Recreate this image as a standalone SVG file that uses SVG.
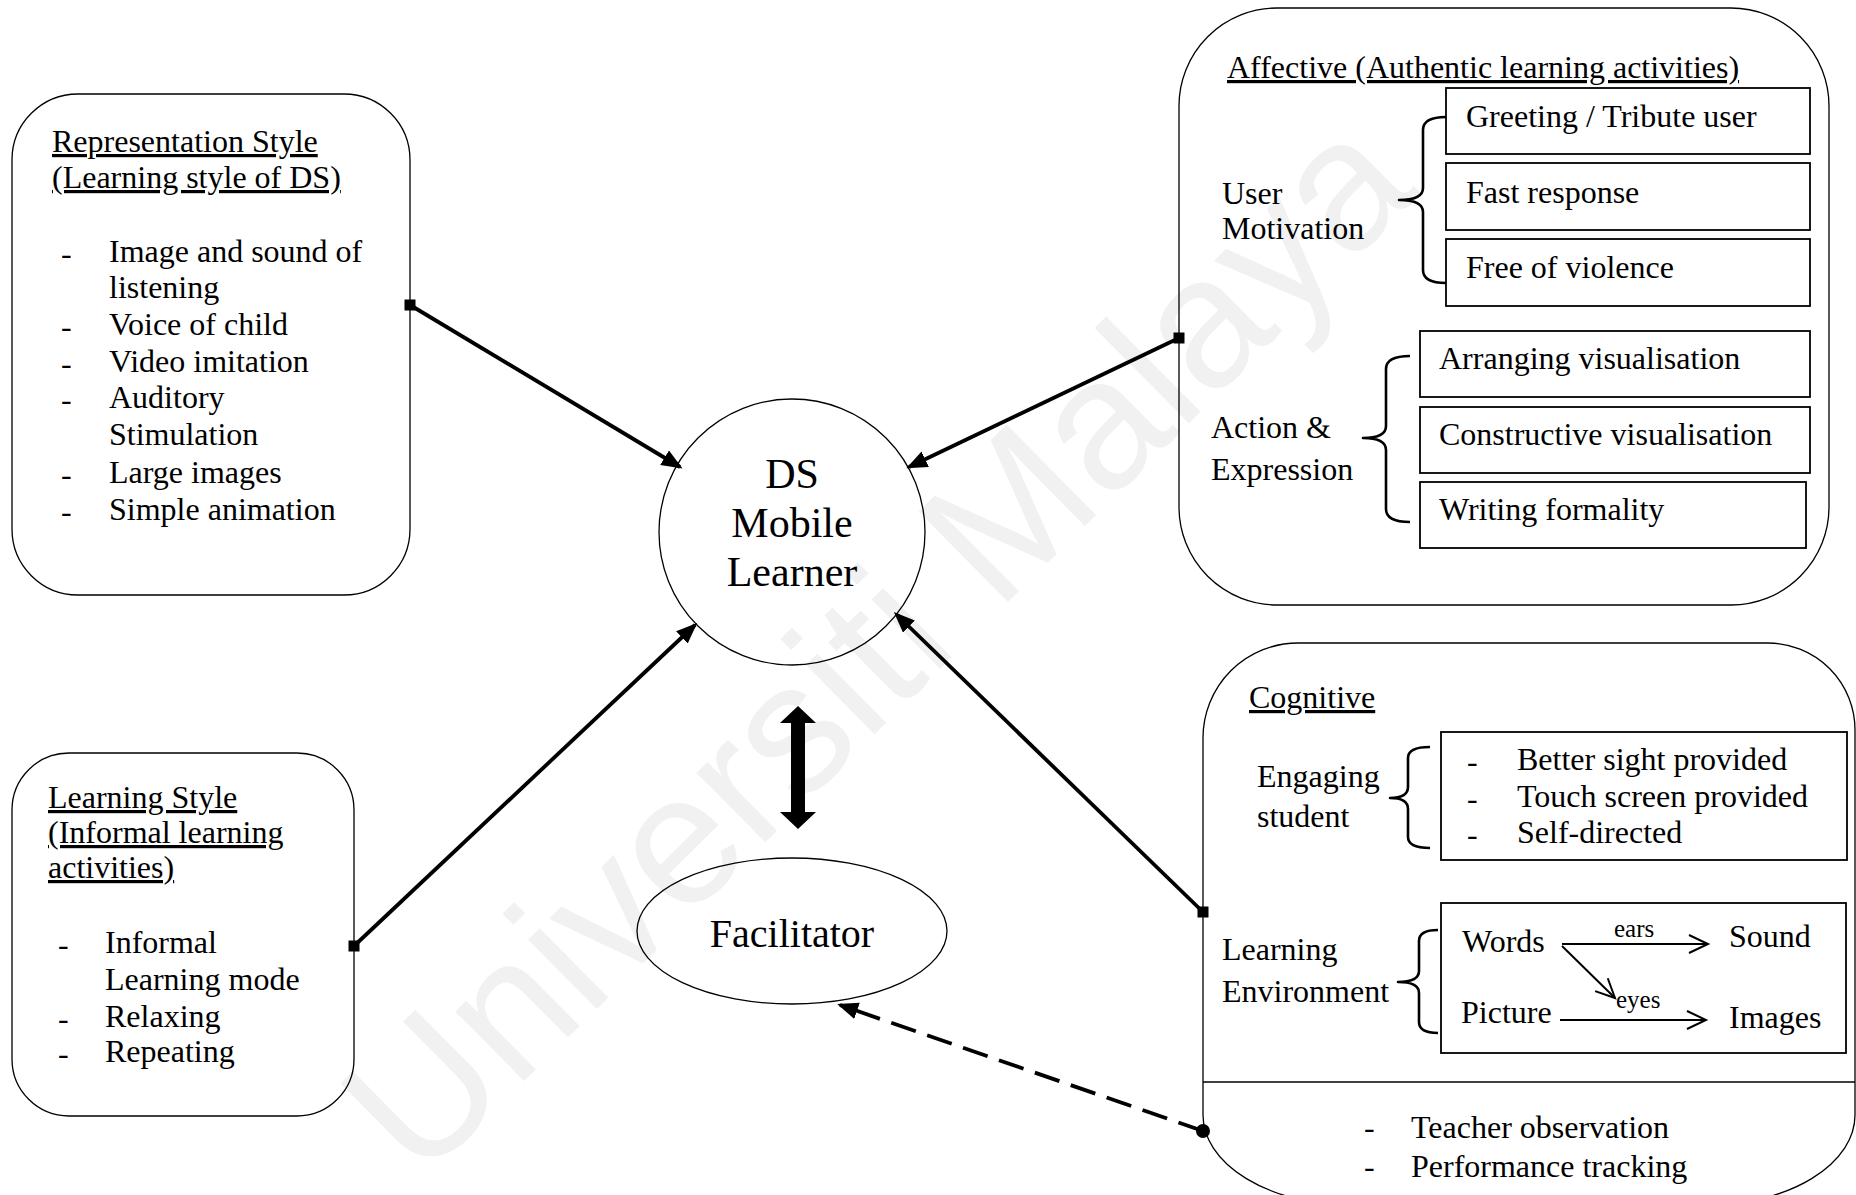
<svg xmlns="http://www.w3.org/2000/svg" width="1856" height="1195" viewBox="0 0 1856 1195">
<style>
text { font-family: "Liberation Serif", "Times New Roman", serif; fill: #000; }
.t { font-size: 32px; }
.u { text-decoration: underline; }
.c { font-size: 42px; text-anchor: middle; }
.f { font-size: 40px; text-anchor: middle; }
.s { font-size: 25px; }
.wm { font-family: "Liberation Sans", Arial, sans-serif; font-size: 185px; fill: #f1f1f1; }
.outline { fill: none; stroke: #000; stroke-width: 1.3; }
.cell { fill: none; stroke: #000; stroke-width: 1.8; }
.brace { fill: none; stroke: #000; stroke-width: 2.6; stroke-linejoin: round; }
.link { fill: none; stroke: #000; stroke-width: 3.8; }
.dashed { stroke-dasharray: 26 12; }
.flow { fill: none; stroke: #000; stroke-width: 2; }
</style>
<defs>
  <marker id="arrow" markerUnits="userSpaceOnUse" markerWidth="24" markerHeight="18" refX="18" refY="8.5" orient="auto">
    <path d="M0,0 L21,8.5 L0,17 z" fill="#000"/>
  </marker>
  <marker id="sq" markerUnits="userSpaceOnUse" viewBox="-7 -7 14 14" markerWidth="14" markerHeight="14" refX="0" refY="0">
    <rect x="-5.5" y="-5.5" width="11" height="11" fill="#000"/>
  </marker>
  <marker id="dot" markerUnits="userSpaceOnUse" viewBox="-8 -8 16 16" markerWidth="16" markerHeight="16" refX="0" refY="0">
    <circle r="7" fill="#000"/>
  </marker>
  <marker id="open" markerUnits="userSpaceOnUse" viewBox="-2 -2 24 22" markerWidth="24" markerHeight="22" refX="19" refY="9" orient="auto">
    <path d="M0,0 L19,9 L0,18" fill="none" stroke="#000" stroke-width="2"/>
  </marker>
</defs>

<!-- background watermark -->
<text class="wm" transform="translate(420,1184) rotate(-44.7)">Universiti Malaya</text>

<!-- Representation style -->
<g id="representation-style">
  <rect class="outline" x="12" y="94" width="398" height="501" rx="66"/>
  <text class="t u" x="52" y="152">Representation Style</text>
  <text class="t u" x="52" y="188">(Learning style of DS)</text>
  <text class="t" x="61" y="264">-</text><text class="t" x="109" y="262">Image and sound of</text>
  <text class="t" x="109" y="298">listening</text>
  <text class="t" x="61" y="337">-</text><text class="t" x="109" y="335">Voice of child</text>
  <text class="t" x="61" y="374">-</text><text class="t" x="109" y="372">Video imitation</text>
  <text class="t" x="61" y="410">-</text><text class="t" x="109" y="408">Auditory</text>
  <text class="t" x="109" y="445">Stimulation</text>
  <text class="t" x="61" y="485">-</text><text class="t" x="109" y="483">Large images</text>
  <text class="t" x="61" y="522">-</text><text class="t" x="109" y="520">Simple animation</text>
</g>

<!-- Learning style -->
<g id="learning-style">
  <rect class="outline" x="12" y="753" width="342" height="363" rx="57"/>
  <text class="t u" x="48" y="808">Learning Style</text>
  <text class="t u" x="48" y="843">(Informal learning</text>
  <text class="t u" x="48" y="878">activities)</text>
  <text class="t" x="58" y="955">-</text><text class="t" x="105" y="953">Informal</text>
  <text class="t" x="105" y="990">Learning mode</text>
  <text class="t" x="58" y="1029">-</text><text class="t" x="105" y="1027">Relaxing</text>
  <text class="t" x="58" y="1064">-</text><text class="t" x="105" y="1062">Repeating</text>
</g>

<!-- DS mobile learner -->
<g id="ds-mobile-learner">
  <circle class="outline" cx="792" cy="532" r="133"/>
  <text class="c" x="792" y="488">DS</text>
  <text class="c" x="792" y="537">Mobile</text>
  <text class="c" x="792" y="586">Learner</text>
</g>

<!-- Facilitator -->
<g id="facilitator">
  <ellipse class="outline" cx="792" cy="931" rx="155" ry="73"/>
  <text class="f" x="792" y="947">Facilitator</text>
</g>

<!-- Affective -->
<g id="affective">
  <rect class="outline" x="1179" y="8" width="650" height="597" rx="98"/>
  <text class="t u" x="1227" y="78">Affective (Authentic learning activities)</text>
  <text class="t" x="1222" y="204">User</text>
  <text class="t" x="1222" y="239">Motivation</text>
  <path class="brace" d="M1446,117 Q1423,117 1423,130 L1423,188 Q1423,200 1399,200 Q1423,200 1423,212 L1423,270 Q1423,283 1446,283"/>
  <rect class="cell" x="1446" y="88" width="364" height="66"/>
  <rect class="cell" x="1446" y="163" width="364" height="67"/>
  <rect class="cell" x="1446" y="239" width="364" height="67"/>
  <text class="t" x="1466" y="127">Greeting / Tribute user</text>
  <text class="t" x="1466" y="203">Fast response</text>
  <text class="t" x="1466" y="278">Free of violence</text>
  <text class="t" x="1211" y="438">Action &amp;</text>
  <text class="t" x="1211" y="480">Expression</text>
  <path class="brace" d="M1410,356 Q1386,356 1386,369 L1386,426 Q1386,438 1363,438 Q1386,438 1386,450 L1386,509 Q1386,522 1410,522"/>
  <rect class="cell" x="1420" y="331" width="390" height="66"/>
  <rect class="cell" x="1420" y="407" width="390" height="66"/>
  <rect class="cell" x="1420" y="482" width="386" height="66"/>
  <text class="t" x="1439" y="369">Arranging visualisation</text>
  <text class="t" x="1439" y="445">Constructive visualisation</text>
  <text class="t" x="1439" y="520">Writing formality</text>
</g>

<!-- Cognitive -->
<g id="cognitive">
  <path class="outline" d="M1203,738 A95,95 0 0 1 1298,643 L1768,643 A87,87 0 0 1 1855,730 L1855,1115 A148,90 0 0 1 1707,1205 L1351,1205 A148,90 0 0 1 1203,1115 Z"/>
  <line class="outline" x1="1203" y1="1082" x2="1855" y2="1082"/>
  <text class="t u" x="1249" y="708">Cognitive</text>
  <text class="t" x="1257" y="787">Engaging</text>
  <text class="t" x="1257" y="827">student</text>
  <path class="brace" d="M1430,747 Q1408,747 1408,758 L1408,787 Q1408,798 1390,798 Q1408,798 1408,809 L1408,837 Q1408,848 1430,848"/>
  <rect class="cell" x="1441" y="732" width="406" height="128"/>
  <text class="t" x="1467" y="772">-</text><text class="t" x="1517" y="770">Better sight provided</text>
  <text class="t" x="1467" y="809">-</text><text class="t" x="1517" y="807">Touch screen provided</text>
  <text class="t" x="1467" y="845">-</text><text class="t" x="1517" y="843">Self-directed</text>
  <text class="t" x="1222" y="960">Learning</text>
  <text class="t" x="1222" y="1002">Environment</text>
  <path class="brace" d="M1438,930 Q1419,930 1419,941 L1419,971 Q1419,982 1398,982 Q1419,982 1419,993 L1419,1022 Q1419,1033 1438,1033"/>
  <rect class="cell" x="1441" y="903" width="405" height="150"/>
  <text class="t" x="1462" y="952">Words</text>
  <text class="t" x="1729" y="947">Sound</text>
  <text class="t" x="1461" y="1023">Picture</text>
  <text class="t" x="1729" y="1028">Images</text>
  <line class="flow" x1="1562" y1="944" x2="1708" y2="944" marker-end="url(#open)"/>
  <text class="s" x="1614" y="937">ears</text>
  <line class="flow" x1="1562" y1="946" x2="1615" y2="998" marker-end="url(#open)"/>
  <text class="s" x="1616" y="1008">eyes</text>
  <line class="flow" x1="1560" y1="1020" x2="1706" y2="1020" marker-end="url(#open)"/>
  <text class="t" x="1364" y="1138">-</text><text class="t" x="1411" y="1138">Teacher observation</text>
  <text class="t" x="1364" y="1177">-</text><text class="t" x="1411" y="1177">Performance tracking</text>
</g>

<!-- Connectors -->
<g id="connectors">
  <line class="link" x1="410" y1="305" x2="680" y2="467" marker-start="url(#sq)" marker-end="url(#arrow)"/>
  <line class="link" x1="354" y1="946" x2="695" y2="625" marker-start="url(#sq)" marker-end="url(#arrow)"/>
  <line class="link" x1="1179" y1="338" x2="909" y2="467" marker-start="url(#sq)" marker-end="url(#arrow)"/>
  <line class="link" x1="1203" y1="912" x2="896" y2="614" marker-start="url(#sq)" marker-end="url(#arrow)"/>
  <line class="link dashed" x1="1203" y1="1131" x2="840" y2="1005" marker-start="url(#dot)" marker-end="url(#arrow)"/>
  <polygon points="798,706 816,723 805,723 805,812 816,812 798,829 780,812 791,812 791,723 780,723" fill="#000"/>
</g>
</svg>
